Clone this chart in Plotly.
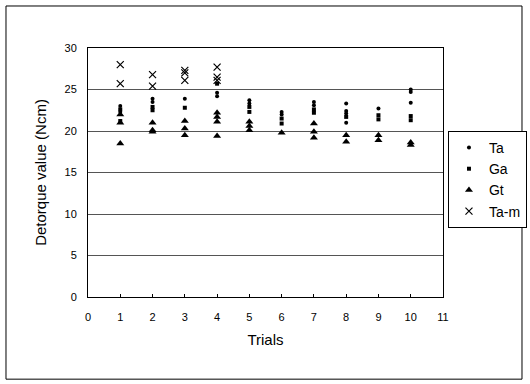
import plotly.graph_objects as go

# Data (trial number, detorque value in Ncm)
ta_x = [1, 1, 2, 2, 3, 4, 4, 5, 5, 6, 6, 7, 7, 8, 8, 8, 8, 9, 10, 10, 10]
ta_y = [23.0, 22.3, 23.9, 23.5, 23.9, 24.6, 24.2, 23.7, 23.3, 22.3, 22.0, 23.5, 23.1, 23.3, 22.4, 22.1, 21.0, 22.7, 25.0, 24.7, 23.4]

ga_x = [1, 1, 2, 2, 3, 4, 5, 5, 6, 6, 7, 7, 8, 9, 9, 10, 10]
ga_y = [22.6, 21.2, 22.9, 22.5, 22.8, 25.7, 22.9, 22.3, 21.5, 20.9, 22.6, 22.2, 21.7, 21.9, 21.4, 21.8, 21.3]

gt_x = [1, 1, 1, 2, 2, 2, 3, 3, 3, 4, 4, 4, 4, 5, 5, 5, 6, 7, 7, 7, 8, 8, 9, 9, 10, 10]
gt_y = [22.0, 21.0, 18.5, 21.0, 20.1, 19.9, 21.2, 20.3, 19.5, 22.2, 21.7, 21.1, 19.4, 21.1, 20.6, 20.1, 19.8, 20.9, 19.9, 19.2, 19.5, 18.7, 19.5, 18.9, 18.6, 18.3]

tam_x = [1, 1, 2, 2, 3, 3, 3, 4, 4, 4]
tam_y = [28.0, 25.7, 26.8, 25.4, 27.3, 27.0, 26.1, 27.7, 26.5, 26.1]

x_ticks = list(range(0, 12))
y_ticks = [0, 5, 10, 15, 20, 25, 30]

fig = go.Figure()
fig.add_trace(go.Scatter(x=ta_x, y=ta_y, mode="markers", name="Ta",
                         marker=dict(symbol="circle", size=4, color="black")))
fig.add_trace(go.Scatter(x=ga_x, y=ga_y, mode="markers", name="Ga",
                         marker=dict(symbol="square", size=4, color="black")))
fig.add_trace(go.Scatter(x=gt_x, y=gt_y, mode="markers", name="Gt",
                         marker=dict(symbol="triangle-up", size=7, color="black")))
fig.add_trace(go.Scatter(x=tam_x, y=tam_y, mode="markers", name="Ta-m",
                         marker=dict(symbol="x-thin", size=7, color="black",
                                     line=dict(width=1.2, color="black"))))

font = "Liberation Sans, Arial, sans-serif"
fig.update_layout(
    width=530, height=384,
    margin=dict(l=88, r=87, t=48, b=87, autoexpand=False),
    paper_bgcolor="white", plot_bgcolor="white",
    font=dict(family=font, color="black", size=11),
    showlegend=True,
    legend=dict(x=1.014, y=0.667, xanchor="left", yanchor="top",
                bordercolor="black", borderwidth=1, bgcolor="white",
                font=dict(size=14, family=font), tracegroupgap=0,
                itemsizing="trace", itemwidth=30),
    xaxis=dict(range=[0, 11], tickmode="array", tickvals=x_ticks,
               ticktext=[str(v) for v in x_ticks],
               showgrid=False, zeroline=False, showline=True,
               linecolor="black", linewidth=1, mirror=True,
               ticks="inside", ticklen=3, tickcolor="black",
               tickfont=dict(size=11), ticklabelstandoff=10,
               title=dict(text="Trials", font=dict(size=15), standoff=12)),
    yaxis=dict(range=[0, 30], tickmode="array", tickvals=y_ticks,
               ticktext=[str(v) for v in y_ticks],
               showgrid=True, gridcolor="#555555", gridwidth=1,
               zeroline=False, showline=True,
               linecolor="black", linewidth=1, mirror=True,
               ticks="", tickfont=dict(size=11), ticklabelstandoff=8,
               title=dict(text="Detorque value (Ncm)", font=dict(size=15), standoff=14)),
    shapes=[dict(type="rect", xref="paper", yref="paper",
                 x0=-0.231, x1=1.2225, y0=-0.33, y1=1.1687,
                 line=dict(color="black", width=1), fillcolor="rgba(0,0,0,0)",
                 layer="below")],
)

fig.write_html("out.html")
